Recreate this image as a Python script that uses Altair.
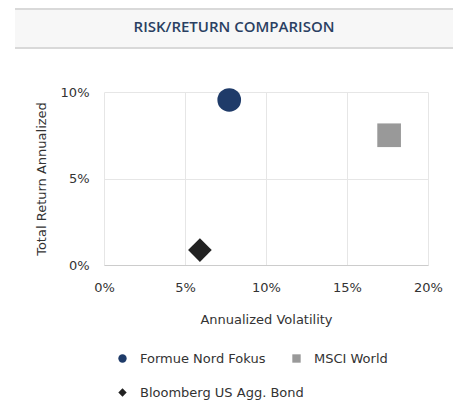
import altair as alt
import pandas as pd

names = ["Formue Nord Fokus", "MSCI World", "Bloomberg US Agg. Bond"]
volatility = [0.0773, 0.176, 0.0592]
returns = [0.0954, 0.075, 0.0086]
colors = ["#1f3b69", "#999999", "#222222"]
shapes = ["circle", "square", "diamond"]
x_ticks = [0, 0.05, 0.10, 0.15, 0.20]
y_ticks = [0, 0.05, 0.10]
title_text = "RISK/RETURN COMPARISON"
legend_order = [names[0], names[2], names[1]]

df = pd.DataFrame({"name": names, "vol": volatility, "ret": returns})

FONT = "DejaVu Sans"
one = alt.Data(values=[{"a": 1}])

header_bg = alt.Chart(one).mark_rect(fill="#f7f7f7").encode(
    x=alt.value(-89), x2=alt.value(349), y=alt.value(-84), y2=alt.value(-44)
)
header_top = alt.Chart(one).mark_rule(color="#d9d9d9", strokeWidth=2).encode(
    x=alt.value(-89), x2=alt.value(349), y=alt.value(-83)
)
header_bot = alt.Chart(one).mark_rule(color="#d9d9d9", strokeWidth=2).encode(
    x=alt.value(-89), x2=alt.value(349), y=alt.value(-44)
)
header_text = alt.Chart(one).mark_text(
    font="Open Sans", fontSize=15, fontWeight=600, color="#2a3f62",
    align="center", baseline="middle"
).encode(x=alt.value(130), y=alt.value(-65), text=alt.value(title_text))

points = alt.Chart(df).mark_point(filled=True, opacity=1, strokeWidth=0, size=560).encode(
    x=alt.X("vol:Q", title="Annualized Volatility",
            scale=alt.Scale(domain=[0, 0.2], nice=False),
            axis=alt.Axis(values=x_ticks, format=".0%", grid=True, gridColor="#e6e6e6",
                          domainColor="#cccccc", ticks=False, tickSize=0, labelPadding=16,
                          labelFlush=False, titlePadding=19, labelFont=FONT, labelFontSize=13,
                          titleFont=FONT, titleFontSize=13, titleFontWeight="normal",
                          labelColor="#333333", titleColor="#333333")),
    y=alt.Y("ret:Q", title="Total Return Annualized",
            scale=alt.Scale(domain=[0, 0.1], nice=False),
            axis=alt.Axis(values=y_ticks, format=".0%", grid=True, gridColor="#e6e6e6",
                          domain=False, ticks=False, tickSize=0, labelPadding=15,
                          labelFlush=False, titlePadding=12, labelFont=FONT, labelFontSize=13,
                          titleFont=FONT, titleFontSize=13, titleFontWeight="normal",
                          labelColor="#333333", titleColor="#333333")),
    color=alt.Color("name:N", scale=alt.Scale(domain=names, range=colors),
                    legend=alt.Legend(title=None, orient="none", legendX=12, legendY=260,
                                      values=legend_order,
                                      columns=2, gridAlign="none", columnPadding=-14,
                                      rowPadding=20, labelOffset=11, symbolSize=70,
                                      symbolStrokeWidth=0, padding=0,
                                      labelFont=FONT, labelFontSize=13,
                                      labelColor="#333333", labelLimit=300)),
    shape=alt.Shape("name:N", scale=alt.Scale(domain=names, range=shapes),
                    legend=alt.Legend(values=legend_order)),
)

chart = alt.layer(header_bg, header_top, header_bot, header_text, points).properties(
    width=324, height=173,
    padding={"left": 96, "top": 84, "right": 25, "bottom": 137},
    autosize=alt.AutoSizeParams(type="none"),
).configure_view(stroke=None)

chart.save("out.html", embed_options={"renderer": "svg", "actions": False})
